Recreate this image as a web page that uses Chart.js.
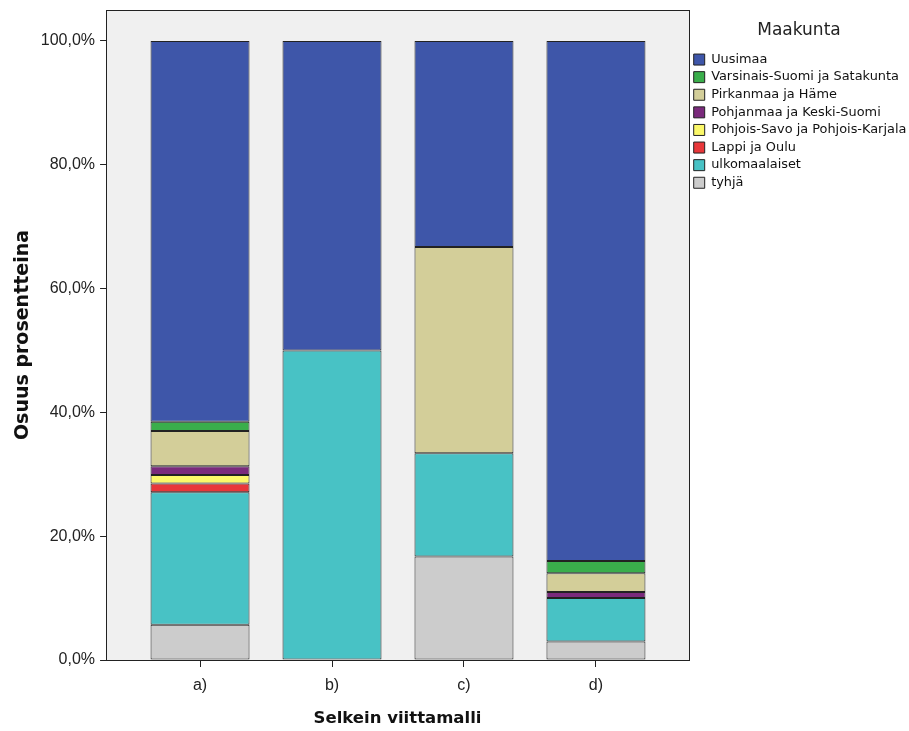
<!DOCTYPE html>
<html lang="fi">
<head>
    <meta charset="UTF-8">
    <title>Selkein viittamalli</title>
    <style>
        html, body { margin: 0; padding: 0; background: #fff; }
        #wrap { width: 909px; height: 731px; }
    </style>
</head>
<body>
<div id="wrap"><canvas id="graafi" width="909" height="731"></canvas></div>

<script src="https://cdn.jsdelivr.net/npm/chart.js@4.4.0/dist/chart.umd.min.js"></script>
<script>
    // kategoriat ja osuudet (%), luettu kuvasta
    var categories = ['a)', 'b)', 'c)', 'd)'];
    var yTicks = [0, 20, 40, 60, 80, 100];

    var tyhja         = [5.7, 0, 16.7, 3];
    var ulkomaalaiset = [21.4, 50, 16.7, 7];
    var lappi         = [1.4, 0, 0, 0];
    var pohjoisSavo   = [1.4, 0, 0, 0];
    var pohjanmaa     = [1.4, 0, 0, 1];
    var pirkanmaa     = [5.7, 0, 33.3, 3];
    var varsinais     = [1.5, 0, 0, 2];
    var uusimaa       = [61.5, 50, 33.3, 84];

    function sarja(label, arvot, vari) {
        return {
            label: label,
            data: arvot.map(function (v, i) { return { x: i, y: v }; }),
            backgroundColor: vari,
            borderColor: '#222',
            borderWidth: 1,
            borderSkipped: false
        };
    }

    // taustalaatikko kuvaajan alueelle
    var tausta = {
        id: 'tausta',
        beforeDraw: function (chart) {
            var a = chart.chartArea, ctx = chart.ctx;
            ctx.save();
            ctx.fillStyle = '#f0f0f0';
            ctx.fillRect(a.left, a.top, a.right - a.left, a.bottom - a.top);
            ctx.restore();
        },
        afterDraw: function (chart) {
            var a = chart.chartArea, ctx = chart.ctx;
            ctx.save();
            ctx.strokeStyle = '#222';
            ctx.lineWidth = 1;
            ctx.strokeRect(Math.round(a.left) + 0.5, Math.round(a.top) + 0.5,
                Math.round(a.right - a.left), Math.round(a.bottom - a.top));
            ctx.restore();
        }
    };

    var ctx = document.getElementById('graafi').getContext('2d');
    var chart = new Chart(ctx, {
        type: 'bar',
        data: {
            datasets: [
                sarja('tyhjä', tyhja, '#cccccc'),
                sarja('ulkomaalaiset', ulkomaalaiset, '#48c2c5'),
                sarja('Lappi ja Oulu', lappi, '#e8373a'),
                sarja('Pohjois-Savo ja Pohjois-Karjala', pohjoisSavo, '#fbf869'),
                sarja('Pohjanmaa ja Keski-Suomi', pohjanmaa, '#7a2a7c'),
                sarja('Pirkanmaa ja Häme', pirkanmaa, '#d3ce99'),
                sarja('Varsinais-Suomi ja Satakunta', varsinais, '#3aae4b'),
                sarja('Uusimaa', uusimaa, '#3e56a9')
            ]
        },
        options: {
            responsive: false,
            animation: false,
            categoryPercentage: 1,
            barPercentage: 0.75,
            layout: { padding: { top: 10, right: 0, left: 12, bottom: 2 } },
            plugins: {
                tooltip: { enabled: false },
                legend: {
                    position: 'right',
                    align: 'start',
                    reverse: true,
                    maxWidth: 220,
                    title: {
                        display: true,
                        text: 'Maakunta',
                        color: '#222',
                        font: { family: 'DejaVu Sans', size: 17 },
                        padding: { top: 12, bottom: 6 }
                    },
                    labels: {
                        boxWidth: 11,
                        boxHeight: 11,
                        padding: 4.7,
                        color: '#111',
                        font: { family: 'DejaVu Sans', size: 12.9 }
                    }
                }
            },
            scales: {
                x: {
                    type: 'linear',
                    stacked: true,
                    offset: false,
                    min: -0.712,
                    max: 3.705,
                    afterBuildTicks: function (scale) {
                        scale.ticks = categories.map(function (c, i) { return { value: i }; });
                    },
                    ticks: {
                        callback: function (v) { return categories[v]; },
                        color: '#222',
                        font: { family: 'Liberation Sans', size: 16 },
                        padding: 9
                    },
                    grid: { display: true, offset: false, drawOnChartArea: false, drawTicks: true, tickLength: 7, color: '#222' },
                    border: { display: true, color: '#222' },
                    title: {
                        display: true,
                        text: 'Selkein viittamalli',
                        color: '#111',
                        font: { family: 'DejaVu Sans', size: 16.5, weight: 'bold' },
                        padding: { top: 5, bottom: 0 }
                    }
                },
                y: {
                    stacked: true,
                    min: 0,
                    max: 105,
                    afterBuildTicks: function (scale) {
                        scale.ticks = yTicks.map(function (v) { return { value: v }; });
                    },
                    // ylin tikki ei ole reunalla, joten ylätilaa ei tarvita
                    afterFit: function (scale) {
                        scale.paddingTop = 0;
                    },
                    ticks: {
                        callback: function (v) { return v.toFixed(1).replace('.', ',') + '%'; },
                        color: '#222',
                        font: { family: 'Liberation Sans', size: 16 },
                        padding: 5
                    },
                    grid: { display: true, drawOnChartArea: false, drawTicks: true, tickLength: 6, color: '#222' },
                    border: { display: true, color: '#222' },
                    title: {
                        display: true,
                        text: 'Osuus prosentteina',
                        color: '#111',
                        font: { family: 'DejaVu Sans', size: 19, weight: 'bold' },
                        padding: { top: 0, bottom: 1 }
                    }
                }
            }
        },
        plugins: [tausta]
    });
</script>
</body>
</html>
